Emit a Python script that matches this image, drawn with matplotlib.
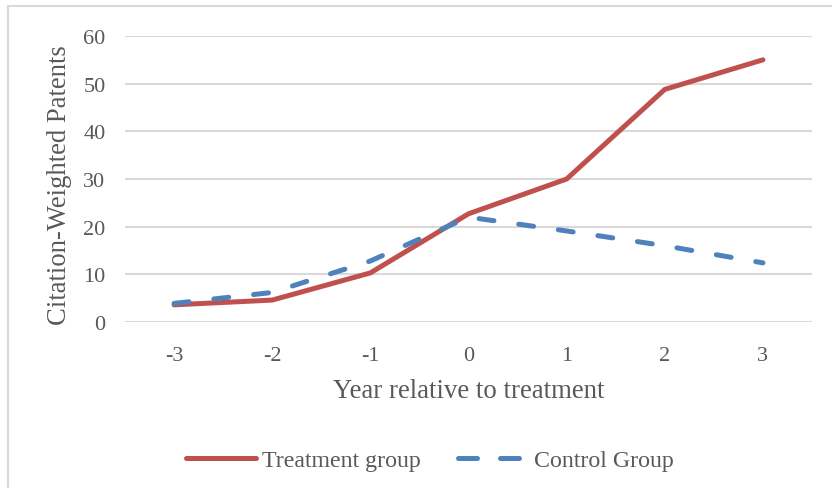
import matplotlib
matplotlib.use("Agg")
import matplotlib.pyplot as plt
from matplotlib.lines import Line2D
from matplotlib.patches import Rectangle

years = [-3, -2, -1, 0, 1, 2, 3]
treatment = [3.6, 4.6, 10.3, 22.7, 30.0, 48.8, 55.0]
control = [3.9, 6.2, 12.8, 22.0, 19.1, 16.0, 12.4]
y_ticks = [0, 10, 20, 30, 40, 50, 60]

TEXT = "#595959"
RED = "#C0504D"
BLUE = "#4F81BD"
GRID = "#D9D9D9"

plt.rcParams["font.family"] = ["Liberation Serif", "DejaVu Serif"]

W, H = 832, 489
fig = plt.figure(figsize=(W / 100, H / 100), dpi=100)

# chart frame
fig.patches.append(Rectangle((8 / W, -0.1), 1.2, (H - 7) / H + 0.1,
                             transform=fig.transFigure, fill=False,
                             edgecolor=GRID, linewidth=1.5))

x0, x1 = 125, 812
y_top, y_bot = 37, 323
ax = fig.add_axes([x0 / W, 1 - y_bot / H, (x1 - x0) / W, (y_bot - y_top) / H])

pos = list(range(len(years)))
ax.plot(pos, treatment, color=RED, linewidth=3.6, solid_capstyle="round",
        solid_joinstyle="round", zorder=3)
ax.plot(pos, control, color=BLUE, linewidth=3.6, dashes=(3, 5),
        dash_capstyle="round", zorder=4)

ax.set_xlim(-0.5, len(years) - 0.5)
ax.set_ylim(0, 60)
ax.set_yticks(y_ticks)
ax.set_xticks(pos)
ax.set_xticklabels([str(y) for y in years])
ax.grid(axis="y", color=GRID, linewidth=1.5)
ax.set_axisbelow(True)
for s in ax.spines.values():
    s.set_visible(False)
ax.tick_params(length=0, labelsize=16, labelcolor=TEXT)
ax.tick_params(axis="y", pad=14)
ax.tick_params(axis="x", pad=17)

ax.set_xlabel("Year relative to treatment", fontsize=19.3, color=TEXT)
ax.xaxis.set_label_coords(0.5, -(392 - y_bot) / (y_bot - y_top),
                          transform=ax.transAxes)
ax.xaxis.label.set_va("center")
ax.set_ylabel("Citation-Weighted Patents", fontsize=19.2, color=TEXT)
ax.yaxis.set_label_coords(-(x0 - 60) / (x1 - x0), (y_bot - 185) / (y_bot - y_top),
                          transform=ax.transAxes)
ax.yaxis.label.set_va("center")

handles = [
    Line2D([], [], color=RED, linewidth=3.6, solid_capstyle="round"),
    Line2D([], [], color=BLUE, linewidth=3.6, dashes=(3.8, 4.6),
           dash_capstyle="round"),
]
fig.legend(handles, ["Treatment group", "Control Group"],
           loc="center", bbox_to_anchor=(430 / W, 1 - 461 / H),
           ncol=2, frameon=False, fontsize=17.2, labelcolor=TEXT,
           handlelength=2.95, handletextpad=0.25, columnspacing=1.55,
           borderpad=0, borderaxespad=0)

fig.savefig("out.png", dpi=100)
